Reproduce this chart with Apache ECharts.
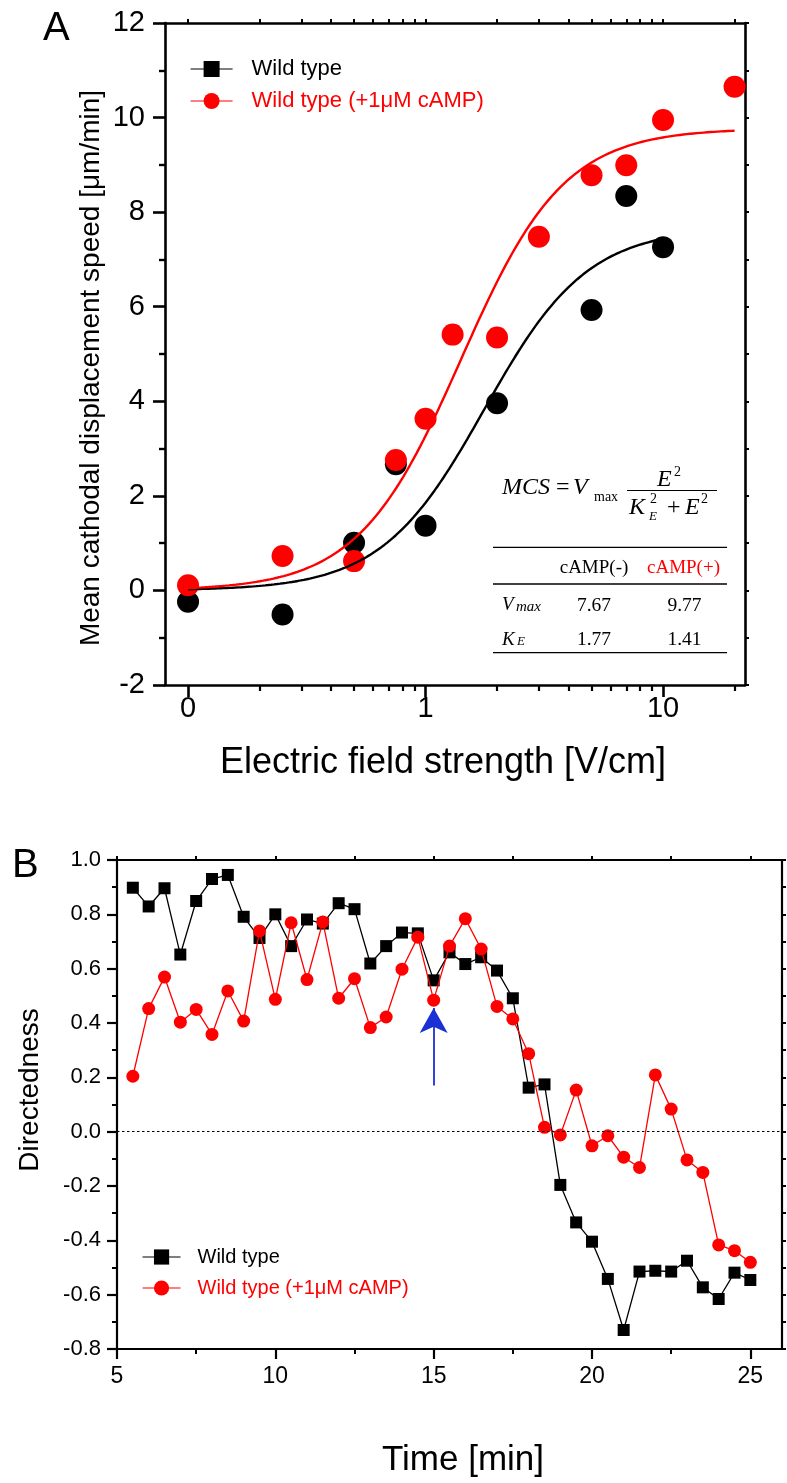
<!DOCTYPE html>
<html>
<head>
<meta charset="utf-8">
<script src="https://cdn.jsdelivr.net/npm/echarts@6/dist/echarts.min.js"></script>
<style>
html, body { margin: 0; padding: 0; background: #fff; }
#chart { width: 787px; height: 1483px; }
</style>
</head>
<body>
<div id="chart"></div>
<script>
// ---------- Panel A: speed vs. electric field (log field axis) ----------
// zero-field controls sit at the 0.1 V/cm position, which is labelled "0"
const fieldWT = [0.1, 0.25, 0.5, 0.75, 1, 2, 5, 7, 10];
const speedWT = [-0.24, -0.51, 1.01, 2.67, 1.37, 3.96, 5.93, 8.34, 7.26];
const fieldCAMP = [0.1, 0.25, 0.5, 0.75, 1, 1.3, 2, 3, 5, 7, 10, 20];
const speedCAMP = [0.11, 0.73, 0.62, 2.76, 3.63, 5.41, 5.35, 7.48, 8.78, 8.99, 9.95, 10.65];

// Hill-type fit: MCS = Vmax * E^2 / (KE^2 + E^2)
const fitNames = ['cAMP(-)', 'cAMP(+)'];
const fitVmax = [7.67, 9.77];
const fitKE = [1.77, 1.41];
const fitFieldRange = [[0.1, 10], [0.1, 20]];

const fieldTicks = [0.1, 1, 10];
const fieldTickLabels = ['0', '1', '10'];
const fieldMinorTicks = [0.2, 0.3, 0.4, 0.5, 0.6, 0.7, 0.8, 0.9, 2, 3, 4, 5, 6, 7, 8, 9, 20];

// ---------- Panel B: directedness over time ----------
const timeMin = [5.5, 6, 6.5, 7, 7.5, 8, 8.5, 9, 9.5, 10,
                 10.5, 11, 11.5, 12, 12.5, 13, 13.5, 14, 14.5, 15,
                 15.5, 16, 16.5, 17, 17.5, 18, 18.5, 19, 19.5, 20,
                 20.5, 21, 21.5, 22, 22.5, 23, 23.5, 24, 24.5, 25];
const dirWT = [0.898, 0.829, 0.896, 0.652, 0.849, 0.930, 0.945, 0.791, 0.713, 0.800,
               0.683, 0.781, 0.766, 0.841, 0.819, 0.619, 0.683, 0.733, 0.730, 0.557,
               0.660, 0.617, 0.642, 0.593, 0.491, 0.162, 0.174, -0.196, -0.334, -0.405,
               -0.542, -0.730, -0.515, -0.512, -0.515, -0.475, -0.573, -0.616, -0.519, -0.546];
const dirCAMP = [0.204, 0.453, 0.569, 0.403, 0.450, 0.358, 0.518, 0.407, 0.739, 0.487,
                 0.769, 0.560, 0.772, 0.491, 0.563, 0.383, 0.422, 0.598, 0.716, 0.484,
                 0.683, 0.784, 0.672, 0.461, 0.415, 0.287, 0.016, -0.012, 0.153, -0.052,
                 -0.015, -0.094, -0.132, 0.209, 0.083, -0.104, -0.150, -0.417, -0.438, -0.481];
const timeTicks = [5, 10, 15, 20, 25];
const timeMinorTicks = [7.5, 12.5, 17.5, 22.5];
const timeTopTicks = [5, 7.5, 10, 12.5, 15, 17.5, 20, 22.5, 25];
// stimulus marker at 15 min: arrow from tail to tip (directedness units)
const arrowTime = 15;
const arrowSpan = [0.17, 0.455];

const seriesNames = ['Wild type', 'Wild type (+1\u03bcM cAMP)'];

const SANS = '"Liberation Sans", Arial, Helvetica, sans-serif';
const SERIF = '"Liberation Serif", "Times New Roman", serif';
const lg = Math.log10;

function fitCurve(k) {
  const lo = lg(fitFieldRange[k][0]);
  const hi = lg(fitFieldRange[k][1]);
  const n = 160;
  const pts = [];
  for (let i = 0; i <= n; i++) {
    const lx = lo + (hi - lo) * i / n;
    const E = Math.pow(10, lx);
    pts.push([lx, fitVmax[k] * E * E / (fitKE[k] * fitKE[k] + E * E)]);
  }
  return pts;
}

const pairsLog = (xs, ys) => xs.map((x, i) => [lg(x), ys[i]]);
const pairs = (xs, ys) => xs.map((x, i) => [x, ys[i]]);

const lineA = { onZero: false, lineStyle: { color: '#000', width: 2.6 } };
const lineB = { onZero: false, lineStyle: { color: '#000', width: 2.2 } };
const noSplit = { show: false };

function fieldLabel(v) {
  let best = 0;
  fieldTicks.forEach((t, i) => { if (Math.abs(lg(t) - v) < Math.abs(lg(fieldTicks[best]) - v)) best = i; });
  return fieldTickLabels[best];
}

const chart = echarts.init(document.getElementById('chart'), null, { renderer: 'canvas' });

const txt = (x, y, text, font, extra) => Object.assign({
  type: 'text', x: x, y: y, silent: true,
  style: Object.assign({ text: text, font: font, fill: '#000', align: 'left', verticalAlign: 'middle' }, (extra || {}).style || {})
}, (extra || {}).el || {});
const hline = (x1, x2, y, w) => ({
  type: 'line', silent: true,
  shape: { x1: x1, y1: y, x2: x2, y2: y },
  style: { stroke: '#000', lineWidth: w }
});

chart.setOption({
  animation: false,
  backgroundColor: '#fff',
  grid: [
    { left: 165, top: 23, width: 580, height: 662 },
    { left: 117, top: 860, width: 665, height: 489 }
  ],
  xAxis: [
    { // A bottom, major
      gridIndex: 0, type: 'value', position: 'bottom', offset: 0,
      min: -1.097, max: 1.345,
      axisLine: lineA, splitLine: noSplit,
      axisTick: { customValues: fieldTicks.map(lg), length: 12, lineStyle: { color: '#000', width: 2.6 } },
      axisLabel: { customValues: fieldTicks.map(lg), formatter: fieldLabel, fontSize: 29, fontFamily: SANS, color: '#000', margin: 9 }
    },
    { // A bottom, minor
      gridIndex: 0, type: 'value', position: 'bottom', offset: 0,
      min: -1.097, max: 1.345,
      axisLine: { show: false, onZero: false }, splitLine: noSplit,
      axisTick: { customValues: fieldMinorTicks.map(lg), length: 6, lineStyle: { color: '#000', width: 2.2 } },
      axisLabel: { show: false }
    },
    { // A top
      gridIndex: 0, type: 'value', position: 'top', offset: 0,
      min: -1.097, max: 1.345,
      axisLine: lineA, splitLine: noSplit,
      axisTick: { customValues: fieldTicks.concat(fieldMinorTicks).map(lg), length: 4, lineStyle: { color: '#000', width: 2 } },
      axisLabel: { show: false }
    },
    { // B bottom, major
      gridIndex: 1, type: 'value', position: 'bottom', offset: 0,
      min: 5, max: 26,
      axisLine: lineB, splitLine: noSplit,
      axisTick: { customValues: timeTicks, length: 10, lineStyle: { color: '#000', width: 2.2 } },
      axisLabel: { customValues: timeTicks, fontSize: 23, fontFamily: SANS, color: '#000', margin: 16 }
    },
    { // B bottom, minor
      gridIndex: 1, type: 'value', position: 'bottom', offset: 0,
      min: 5, max: 26,
      axisLine: { show: false, onZero: false }, splitLine: noSplit,
      axisTick: { customValues: timeMinorTicks, length: 5, lineStyle: { color: '#000', width: 2 } },
      axisLabel: { show: false }
    },
    { // B top
      gridIndex: 1, type: 'value', position: 'top', offset: 0,
      min: 5, max: 26,
      axisLine: lineB, splitLine: noSplit,
      axisTick: { customValues: timeTopTicks, length: 4, lineStyle: { color: '#000', width: 2 } },
      axisLabel: { show: false }
    }
  ],
  yAxis: [
    { // A left
      gridIndex: 0, type: 'value', position: 'left', offset: 0,
      min: -2, max: 12, interval: 2,
      axisLine: lineA, splitLine: noSplit,
      axisTick: { length: 12, lineStyle: { color: '#000', width: 2.6 } },
      minorTick: { show: true, splitNumber: 2, length: 6, lineStyle: { color: '#000', width: 2.4 } },
      minorSplitLine: { show: false },
      axisLabel: { fontSize: 29, fontFamily: SANS, color: '#000', margin: 20 }
    },
    { // A right
      gridIndex: 0, type: 'value', position: 'right', offset: 0,
      min: -2, max: 12, interval: 1,
      axisLine: lineA, splitLine: noSplit,
      axisTick: { length: 4, lineStyle: { color: '#000', width: 2 } },
      axisLabel: { show: false }
    },
    { // B left
      gridIndex: 1, type: 'value', position: 'left', offset: 0,
      min: -0.8, max: 1.0, interval: 0.2,
      axisLine: lineB, splitLine: noSplit,
      axisTick: { length: 10, lineStyle: { color: '#000', width: 2.2 } },
      minorTick: { show: true, splitNumber: 2, length: 5, lineStyle: { color: '#000', width: 2 } },
      minorSplitLine: { show: false },
      axisLabel: {
        fontSize: 22, fontFamily: SANS, color: '#000', margin: 16,
        formatter: v => (Math.abs(v) < 1e-9 ? 0 : v).toFixed(1)
      }
    },
    { // B right
      gridIndex: 1, type: 'value', position: 'right', offset: 0,
      min: -0.8, max: 1.0, interval: 0.1,
      axisLine: lineB, splitLine: noSplit,
      axisTick: { length: 4, lineStyle: { color: '#000', width: 2 } },
      axisLabel: { show: false }
    }
  ],
  legend: [
    {
      orient: 'vertical', left: 190, top: 58, padding: 0,
      itemWidth: 42, itemHeight: 20, itemGap: 10,
      selectedMode: false,
      lineStyle: { width: 1.2 },
      textStyle: { fontSize: 22, fontFamily: SANS, lineHeight: 20, padding: [0, 0, 0, 14] },
      data: [
        { name: seriesNames[0], textStyle: { color: '#000' } },
        { name: seriesNames[1], textStyle: { color: '#ff0000' } }
      ]
    },
    {
      orient: 'vertical', left: 142, top: 1247, padding: 0,
      itemWidth: 38, itemHeight: 19, itemGap: 11,
      selectedMode: false,
      lineStyle: { width: 1.1 },
      textStyle: { fontSize: 20, fontFamily: SANS, lineHeight: 19, padding: [0, 0, 0, 12] },
      data: [
        { name: seriesNames[0], textStyle: { color: '#000' } },
        { name: seriesNames[1], textStyle: { color: '#ff0000' } }
      ]
    }
  ],
  series: [
    { // fitted curves (drawn over the points)
      name: seriesNames[0], type: 'line', xAxisIndex: 0, yAxisIndex: 0,
      data: fitCurve(0), symbol: 'rect', showSymbol: false, silent: true, z: 4,
      color: '#000', lineStyle: { color: '#000', width: 2.4 }
    },
    {
      name: seriesNames[1], type: 'line', xAxisIndex: 0, yAxisIndex: 0,
      data: fitCurve(1), symbol: 'circle', showSymbol: false, silent: true, z: 4,
      color: '#ff0000', lineStyle: { color: '#ff0000', width: 2.4 }
    },
    {
      name: seriesNames[0], type: 'scatter', xAxisIndex: 0, yAxisIndex: 0,
      data: pairsLog(fieldWT, speedWT), symbol: 'circle', symbolSize: 22, z: 2,
      itemStyle: { color: '#000', opacity: 1 }, silent: true
    },
    {
      name: seriesNames[1], type: 'scatter', xAxisIndex: 0, yAxisIndex: 0,
      data: pairsLog(fieldCAMP, speedCAMP), symbol: 'circle', symbolSize: 22, z: 3,
      itemStyle: { color: '#ff0000', opacity: 1 }, silent: true
    },
    {
      name: seriesNames[0], type: 'line', xAxisIndex: 3, yAxisIndex: 2,
      data: pairs(timeMin, dirWT), symbol: 'rect', symbolSize: 12, showSymbol: true,
      color: '#000', itemStyle: { color: '#000' }, lineStyle: { color: '#000', width: 1.3 },
      silent: true, z: 2,
      markLine: {
        silent: true, animation: false,
        label: { show: false },
        emphasis: { disabled: true },
        data: [
          [
            { coord: [5, 0], symbol: 'none', lineStyle: { color: '#000', width: 1, type: [2.5, 2.5] } },
            { coord: [26, 0], symbol: 'none' }
          ],
          [
            { coord: [arrowTime, arrowSpan[0]], symbol: 'none', lineStyle: { color: '#1a30d4', width: 1.8, type: 'solid' } },
            { coord: [arrowTime, arrowSpan[1]], symbol: 'arrow', symbolSize: [21, 25], itemStyle: { color: '#1a30d4' } }
          ]
        ]
      }
    },
    {
      name: seriesNames[1], type: 'line', xAxisIndex: 3, yAxisIndex: 2,
      data: pairs(timeMin, dirCAMP), symbol: 'circle', symbolSize: 13, showSymbol: true,
      color: '#ff0000', itemStyle: { color: '#ff0000' }, lineStyle: { color: '#ff0000', width: 1.3 },
      silent: true, z: 3
    }
  ],
  graphic: { elements: [
    // panel letters
    txt(43, 29, 'A', '40px ' + SANS),
    txt(12, 866, 'B', '40px ' + SANS),
    // axis titles
    txt(91, 368, 'Mean cathodal displacement speed [\u03bcm/min]', '28px ' + SANS,
        { el: { rotation: Math.PI / 2 }, style: { align: 'center' } }),
    txt(443, 763, 'Electric field strength [V/cm]', '36px ' + SANS, { style: { align: 'center' } }),
    txt(30, 1090, 'Directedness', '28px ' + SANS,
        { el: { rotation: Math.PI / 2 }, style: { align: 'center' } }),
    txt(463, 1460, 'Time [min]', '35px ' + SANS, { style: { align: 'center' } }),
    // fit equation
    txt(502, 487.5, 'MCS', 'italic 24px ' + SERIF),
    txt(556, 487.5, '=', '24px ' + SERIF),
    txt(573, 487.5, 'V', 'italic 24px ' + SERIF),
    txt(594, 497, 'max', '14px ' + SERIF),
    txt(657, 480, 'E', 'italic 24px ' + SERIF),
    txt(674, 472, '2', '14px ' + SERIF),
    { type: 'line', silent: true, shape: { x1: 627, y1: 490.5, x2: 717, y2: 490.5 }, style: { stroke: '#000', lineWidth: 1 } },
    txt(629, 508, 'K', 'italic 24px ' + SERIF),
    txt(650, 499.5, '2', '14px ' + SERIF),
    txt(649, 517, 'E', 'italic 13px ' + SERIF),
    txt(667, 508, '+', '24px ' + SERIF),
    txt(685, 508, 'E', 'italic 24px ' + SERIF),
    txt(701, 499.5, '2', '14px ' + SERIF),
    // parameter table
    hline(493, 727, 547.3, 1.3),
    hline(493, 727, 584, 1.3),
    hline(493, 727, 652.7, 1.3),
    txt(594, 568.5, fitNames[0], '19px ' + SERIF, { style: { align: 'center' } }),
    txt(683.5, 568.5, fitNames[1], '19px ' + SERIF, { style: { align: 'center', fill: '#ff0000' } }),
    txt(502, 605.3, 'V', 'italic 19px ' + SERIF),
    txt(516, 606.7, 'max', 'italic 15px ' + SERIF),
    txt(594, 605.5, fitVmax[0].toFixed(2), '19.5px ' + SERIF, { style: { align: 'center' } }),
    txt(684.5, 605.5, fitVmax[1].toFixed(2), '19.5px ' + SERIF, { style: { align: 'center' } }),
    txt(502, 639.8, 'K', 'italic 19px ' + SERIF),
    txt(517, 641.6, 'E', 'italic 13px ' + SERIF),
    txt(594, 639.8, fitKE[0].toFixed(2), '19.5px ' + SERIF, { style: { align: 'center' } }),
    txt(684.5, 639.8, fitKE[1].toFixed(2), '19.5px ' + SERIF, { style: { align: 'center' } })
  ] }
});
</script>
</body>
</html>
